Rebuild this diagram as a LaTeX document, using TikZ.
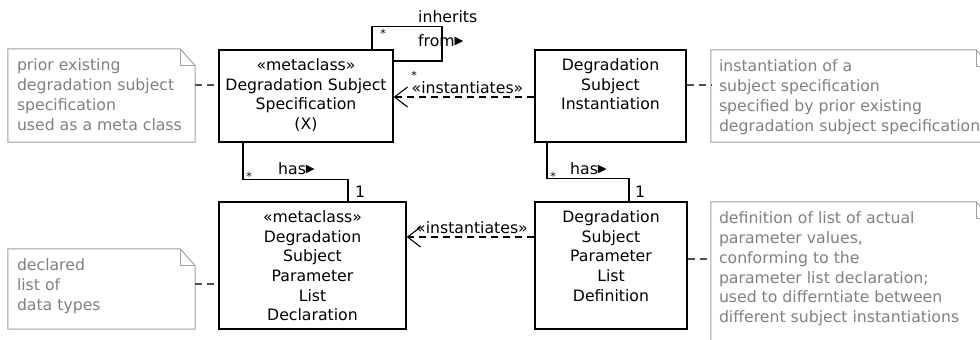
\documentclass[tikz,border=0pt]{standalone}
\usepackage{fontspec}
\setmainfont{DejaVu Sans}
\usetikzlibrary{arrows.meta}
\definecolor{notegray}{RGB}{160,160,160}
\definecolor{notetext}{RGB}{128,128,128}
\definecolor{linkgray}{RGB}{80,80,80}
\newcommand\uml{\fontsize{15.7}{19.7}\selectfont}
\newcommand\multfont{\fontsize{11}{11}\selectfont}
\newcommand\rdir{\raisebox{1.2pt}{\fontsize{11.5}{11.5}\selectfont ▶}}
\tikzset{
  umlbox/.style={draw=black, line width=1.3pt, inner sep=0pt},
  boxtext/.style={anchor=north, align=center, inner sep=0pt, font=\uml},
  notebody/.style={inner sep=0pt},
  notetxt/.style={anchor=north west, align=left, inner sep=0pt, text=notetext, font=\uml},
  noteedge/.style={draw=notegray, line width=1pt, line join=miter},
  notelink/.style={draw=linkgray, line width=1.2pt, dash pattern=on 7pt off 5pt},
  assoc/.style={draw=black, line width=1.2pt},
  realize/.style={draw=black, line width=1.1pt, dash pattern=on 7pt off 5pt,
    -{Straight Barb[length=13pt,width=20pt,line width=1.1pt]}},
  lbl/.style={inner sep=0pt, font=\uml},
  mult/.style={inner sep=0pt, font=\multfont},
}
% note outline with folded corner
\newcommand\dogear[1]{%
  \draw[noteedge] (#1.north west) -- ([xshift=-15pt]#1.north east)
    -- ([yshift=-17pt]#1.north east) -- (#1.south east) -- (#1.south west) -- cycle;
  \draw[noteedge] ([xshift=-15pt]#1.north east) |- ([yshift=-17pt]#1.north east);
}
\begin{document}
\begin{tikzpicture}[x=1pt, y=-1pt]
\useasboundingbox (0,0) rectangle (980,340);

% classes
\node[umlbox, minimum width=174pt, minimum height=92pt] (spec) at (306,96) {};
\node[boxtext] (spectxt) at ([yshift=-9pt]spec.north)
  {«metaclass»\\Degradation Subject\\Specification\\(X)};
\node[umlbox, minimum width=151pt, minimum height=92pt] (inst) at (610.5,96) {};
\node[boxtext] (insttxt) at ([yshift=-9pt]inst.north)
  {Degradation\\Subject\\Instantiation};
\node[umlbox, minimum width=187pt, minimum height=127pt] (decl) at (312.5,265.5) {};
\node[boxtext] (decltxt) at ([yshift=-9pt]decl.north)
  {«metaclass»\\Degradation\\Subject\\Parameter\\List\\Declaration};
\node[umlbox, minimum width=152pt, minimum height=127pt] (defn) at (611,265.5) {};
\node[boxtext] (defntxt) at ([yshift=-9pt]defn.north)
  {Degradation\\Subject\\Parameter\\List\\Definition};

% notes
\node[notebody, minimum width=187pt, minimum height=93pt] (note1) at (101.5,95.5) {};
\dogear{note1}
\node[notetxt] (note1txt) at ([xshift=9pt,yshift=-10pt]note1.north west)
  {prior existing\\degradation subject\\specification\\used as a meta class};
\node[notebody, minimum width=280pt, minimum height=92pt] (note2) at (851,96) {};
\dogear{note2}
\node[notetxt] (note2txt) at ([xshift=8pt,yshift=-10pt]note2.north west)
  {instantiation of a\\subject specification\\specified by prior existing\\degradation subject specification};
\node[notebody, minimum width=187pt, minimum height=80pt] (note3) at (101.5,289) {};
\dogear{note3}
\node[notetxt] (note3txt) at ([xshift=9pt,yshift=-10pt]note3.north west)
  {declared\\list of\\data types};
\node[notebody, minimum width=280pt, minimum height=158pt] (note4) at (851,281) {};
\dogear{note4}
\node[notetxt] (note4txt) at ([xshift=8pt,yshift=-10pt]note4.north west)
  {definition of list of actual\\parameter values,\\conforming to the\\parameter list declaration;\\used to differntiate between\\different subject instantiations};

% note attachments
\draw[notelink] ([yshift=10.5pt]note1.east) -- ([yshift=11pt]spec.west);
\draw[notelink] ([yshift=11pt]inst.east) -- ([yshift=11pt]note2.west);
\draw[notelink] ([yshift=5pt]note3.east) -- ([yshift=-18.5pt]decl.west);
\draw[notelink] ([yshift=6.5pt]defn.east) -- ([yshift=22pt]note4.west);

% self association
\draw[assoc] ([xshift=66pt]spec.north) -- ++(0,-23) -- ++(70,0) |- ([yshift=35pt]spec.east);
\node[mult] (selfmult) at (383,33) {*};
\node[lbl, anchor=base west] (inhlbl) at (418,23) {inherits};
\node[lbl, anchor=base west] (fromlbl) at (418,46) {from\rdir};

% instantiation dependencies
\draw[realize] ([yshift=-1pt]inst.west) -- ([yshift=-1pt]spec.east);
\node[mult] (instmult) at (414,75) {*};
\node[lbl, anchor=base] (instlbl1) at (467.5,93) {«instantiates»};
\draw[realize] ([yshift=28.5pt]defn.west) -- ([yshift=28.5pt]decl.east);
\node[lbl, anchor=base] (instlbl2) at (472,233) {«instantiates»};

% has associations
\draw[assoc] ([xshift=-63pt]spec.south) -- ++(0,37) -| ([xshift=35.5pt]decl.north);
\node[mult] (hasmult1) at (249,176) {*};
\node[lbl, anchor=base west] (haslbl1) at (278,174) {has\rdir};
\node[mult, anchor=base west, font=\uml] (one1) at (355,197) {1};
\draw[assoc] ([xshift=-63.5pt]inst.south) -- ++(0,36) -| ([xshift=18pt]defn.north);
\node[mult] (hasmult2) at (553,176) {*};
\node[lbl, anchor=base west] (haslbl2) at (570,174) {has\rdir};
\node[mult, anchor=base west, font=\uml] (one2) at (635,197) {1};
\end{tikzpicture}
\end{document}
